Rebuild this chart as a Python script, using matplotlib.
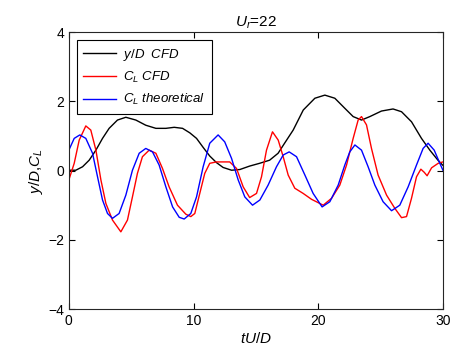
import matplotlib
matplotlib.use('Agg')
import matplotlib.pyplot as plt

plt.rcParams['font.family'] = 'Liberation Sans'
plt.rcParams['mathtext.fontset'] = 'custom'
plt.rcParams['mathtext.rm'] = 'Liberation Sans'
plt.rcParams['mathtext.it'] = 'Liberation Sans:italic'

# y/D CFD
t_y = [0.0, 0.56, 1.1, 1.63, 2.17, 2.7, 3.23, 3.9, 4.57, 5.37, 6.17, 6.98, 7.78,
       8.45, 9.12, 9.7, 10.24, 10.77, 11.3, 11.84, 12.37, 13.05, 13.71, 14.5,
       15.3, 16.1, 16.78, 17.3, 17.99, 18.8, 19.73, 20.53, 21.33, 22.13, 22.8,
       23.47, 24.14, 25.07, 26.0, 26.68, 27.48, 28.28, 28.95, 29.6, 30.0]
y_d = [0.01, 0.01, 0.11, 0.30, 0.59, 0.93, 1.22, 1.46, 1.54, 1.46, 1.31, 1.22,
       1.22, 1.25, 1.22, 1.09, 0.93, 0.67, 0.42, 0.23, 0.09, 0.01, 0.03, 0.13,
       0.21, 0.30, 0.50, 0.79, 1.17, 1.75, 2.09, 2.18, 2.09, 1.80, 1.56, 1.46,
       1.56, 1.72, 1.78, 1.70, 1.41, 0.93, 0.59, 0.30, 0.15]

# C_L CFD
t_c = [0.0, 0.43, 0.83, 1.36, 1.76, 2.17, 2.57, 2.97, 3.5, 4.17, 4.7, 5.1, 5.5,
       5.9, 6.44, 6.98, 7.51, 8.04, 8.71, 9.38, 9.78, 10.1, 10.5, 10.9, 11.3,
       11.84, 12.9, 13.45, 13.98, 14.5, 15.05, 15.45, 15.85, 16.33, 16.79, 17.19,
       17.59, 18.12, 18.79, 19.46, 20.4, 21.07, 21.73, 22.27, 22.8, 23.2, 23.47,
       23.87, 24.27, 24.8, 25.48, 26.14, 26.68, 27.08, 27.48, 27.88, 28.23, 28.5,
       28.73, 29.09, 29.62, 30.0]
cl_cfd = [-0.27, 0.21, 0.88, 1.29, 1.17, 0.59, -0.27, -0.95, -1.43, -1.77,
          -1.43, -0.76, -0.08, 0.40, 0.59, 0.50, 0.06, -0.47, -1.0, -1.26,
          -1.33, -1.24, -0.66, -0.08, 0.21, 0.25, 0.25, 0.06, -0.47, -0.78,
          -0.66, -0.18, 0.59, 1.12, 0.88, 0.40, -0.13, -0.51, -0.66, -0.83,
          -1.0, -0.80, -0.42, 0.16, 0.93, 1.46, 1.56, 1.32, 0.64, -0.13, -0.71,
          -1.09, -1.36, -1.33, -0.80, -0.18, 0.04, -0.05, -0.15, 0.08, 0.21, 0.25]

# C_L theoretical
t_t = [0.0, 0.43, 0.88, 1.36, 1.9, 2.3, 2.7, 3.1, 3.5, 4.03, 4.57, 5.1, 5.64,
       6.17, 6.71, 7.24, 7.78, 8.32, 8.85, 9.25, 9.78, 10.24, 10.77, 11.3, 11.97,
       12.5, 13.05, 13.58, 14.11, 14.73, 15.32, 15.98, 16.65, 17.19, 17.67,
       18.26, 18.93, 19.59, 20.31, 20.93, 21.6, 22.13, 22.53, 22.94, 23.47, 24.0,
       24.54, 25.2, 25.88, 26.54, 27.21, 27.88, 28.41, 28.81, 29.3, 29.75, 30.0]
cl_th = [0.59, 0.93, 1.03, 0.93, 0.50, -0.18, -0.85, -1.24, -1.38, -1.24, -0.71,
         0.01, 0.50, 0.64, 0.54, 0.16, -0.47, -1.05, -1.35, -1.40, -1.24, -0.76,
         0.11, 0.79, 1.03, 0.83, 0.35, -0.27, -0.76, -1.0, -0.85, -0.42, 0.11,
         0.45, 0.54, 0.40, -0.13, -0.66, -1.05, -0.90, -0.42, 0.16, 0.54, 0.74,
         0.59, 0.11, -0.42, -0.90, -1.16, -1.0, -0.47, 0.16, 0.64, 0.79, 0.59,
         0.21, 0.01]

fig = plt.figure(figsize=(4.59, 3.61), dpi=100)
ax = fig.add_axes([0.150, 0.144, 0.815, 0.767])
ax.plot(t_y, y_d, color='black', lw=1.0, label=r'$y/D$  CFD')
ax.plot(t_c, cl_cfd, color='red', lw=1.0, label=r'$C_L$ CFD')
ax.plot(t_t, cl_th, color='blue', lw=1.0, label=r'$C_L$ theoretical')

ax.set_xlim(0, 30)
ax.set_ylim(-4, 4)
ax.set_xticks([0, 10, 20, 30])
ax.set_yticks([-4, -2, 0, 2, 4])
ax.tick_params(direction='in', top=True, right=True, labelsize=10, length=4)
for s in ax.spines.values():
    s.set_linewidth(0.8)
    s.set_color('#262626')

ax.set_xlabel(r'$tU/D$', fontsize=11, labelpad=2)
ax.set_ylabel(r'$y/D$,$C_L$', fontsize=11, labelpad=2)
ax.set_title(r'$U_r$=22', fontsize=11, pad=4)

leg = ax.legend(loc='upper left', prop={'style': 'italic', 'size': 9.5},
                fancybox=False, edgecolor='black', framealpha=1,
                handlelength=2.5, handletextpad=0.5, borderaxespad=0.6,
                labelspacing=0.55, borderpad=0.5)
leg.get_frame().set_linewidth(0.8)

fig.savefig('out.png', dpi=100)
